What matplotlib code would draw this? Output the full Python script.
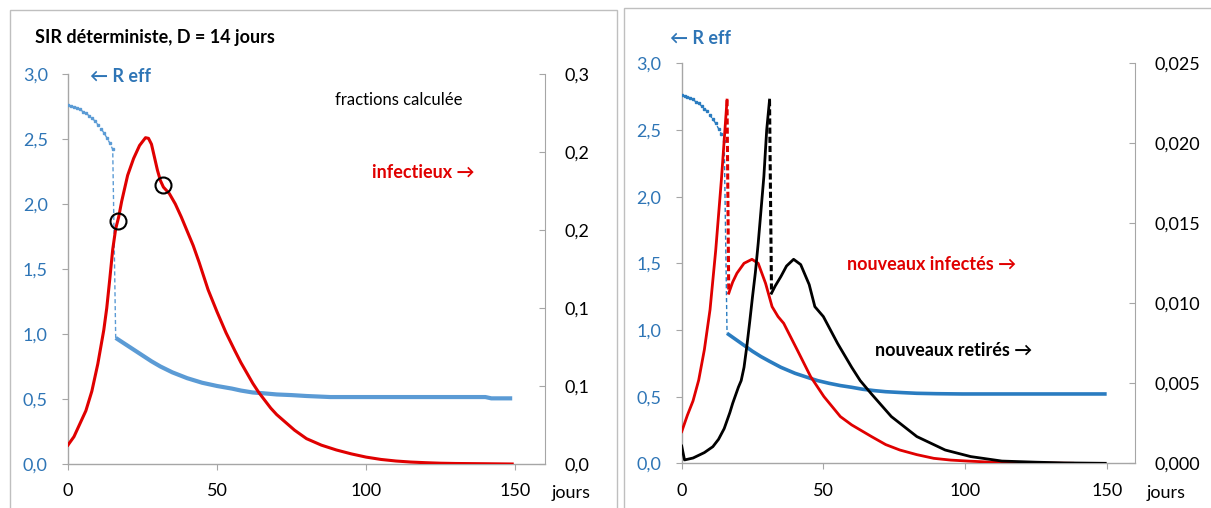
import matplotlib
matplotlib.use("Agg")
import matplotlib.pyplot as plt
from matplotlib.patches import Rectangle
from matplotlib.ticker import FixedLocator, FuncFormatter

plt.rcParams['font.family'] = ['Lato', 'DejaVu Sans']

# ---------------- data ----------------
x_ticks = [0, 50, 100, 150]
reff_ticks = [0.0, 0.5, 1.0, 1.5, 2.0, 2.5, 3.0]
frac_ticks_left = [0.0, 0.06, 0.12, 0.18, 0.24, 0.30]
frac_ticks_right = [0.0, 0.005, 0.010, 0.015, 0.020, 0.025]

# Left panel : R eff before intervention (daily points) and after
reff_pre_days = [0, 1, 2, 3, 4, 5, 6, 7, 8, 9, 10, 11, 12, 13, 14, 15, 16]
reff_pre_L = [2.76, 2.755, 2.75, 2.74, 2.73, 2.71, 2.70, 2.68, 2.66, 2.64,
              2.61, 2.58, 2.55, 2.51, 2.47, 2.42, 0.97]
reff_post_days = [16, 18, 20, 22, 25, 28, 31, 35, 40, 45, 50, 55, 58, 62, 65,
                  70, 75, 80, 88, 100, 120, 140, 142, 149]
reff_post_L = [0.97, 0.94, 0.91, 0.88, 0.835, 0.79, 0.75, 0.705, 0.66, 0.625,
               0.60, 0.58, 0.565, 0.55, 0.545, 0.535, 0.53, 0.523, 0.515,
               0.515, 0.515, 0.515, 0.505, 0.505]

# Left panel : infectious fraction
inf_days = [0, 2, 4, 6, 8, 10, 12, 13, 14, 15, 16, 17, 18, 20, 22, 24, 26, 27,
            28, 29, 30, 31, 32, 34, 36, 38, 40, 42, 44, 47, 50, 53, 56, 58, 60,
            62, 64, 66, 68, 70, 72, 76, 80, 85, 90, 95, 100, 105, 110, 115,
            120, 125, 130, 140, 149]
inf_frac = [0.0146, 0.021, 0.031, 0.041, 0.056, 0.077, 0.103, 0.12, 0.142,
            0.165, 0.181, 0.190, 0.202, 0.222, 0.235, 0.245, 0.251, 0.2505,
            0.246, 0.236, 0.226, 0.218, 0.213, 0.208, 0.200, 0.190, 0.179,
            0.168, 0.155, 0.134, 0.117, 0.101, 0.087, 0.078, 0.070, 0.062,
            0.055, 0.049, 0.043, 0.038, 0.034, 0.026, 0.0195, 0.0145, 0.0108,
            0.0078, 0.0053, 0.0035, 0.0023, 0.0015, 0.001, 0.0006, 0.0004,
            0.0002, 0.0]
circle_days = [16.7, 31.7]
circle_frac = [0.187, 0.2146]

# Right panel : R eff
reff_pre_R = [2.76, 2.755, 2.75, 2.74, 2.73, 2.71, 2.70, 2.68, 2.66, 2.64,
              2.61, 2.58, 2.55, 2.51, 2.47, 2.42, 0.975]
reff_post_days_R = [16, 18, 20, 22, 25, 28, 31, 35, 40, 45, 48, 52, 56, 60,
                    64, 68, 72, 78, 83, 90, 99, 120, 140, 150]
reff_post_R = [0.975, 0.945, 0.915, 0.885, 0.84, 0.80, 0.765, 0.72, 0.675,
               0.64, 0.62, 0.60, 0.583, 0.57, 0.555, 0.545, 0.537, 0.53,
               0.525, 0.522, 0.52, 0.52, 0.52, 0.52]

# Right panel : new infected (fraction per day)
ni_days_a = [0, 2, 4, 6, 8, 10, 12, 14, 16]
ni_a = [0.00198, 0.0030, 0.0039, 0.0052, 0.0071, 0.0096, 0.0133, 0.0177, 0.0227]
ni_days_b = [16.6, 18, 19.5, 22, 24.8, 27, 29.6, 31.9, 34, 36, 40.8, 45.5,
             50.2, 56, 60, 67, 72, 77, 83, 89, 95, 101, 113, 125, 138]
ni_b = [0.01063, 0.01133, 0.01188, 0.0125, 0.01275, 0.0125, 0.01125, 0.00979,
        0.00917, 0.00875, 0.00708, 0.00542, 0.00417, 0.00292, 0.0024, 0.00167,
        0.00117, 0.00083, 0.00054, 0.00031, 0.0002, 0.00014, 0.00004,
        0.00002, 0.0]

# Right panel : new removed (fraction per day)
nr_days_a = [0, 1, 4, 8, 11, 13, 15, 17, 18, 20, 21, 22, 23, 24, 25, 26, 27,
             28, 29, 30, 31]
nr_a = [0.00108, 0.00021, 0.00033, 0.00067, 0.00104, 0.0015, 0.00217,
        0.00317, 0.00375, 0.00475, 0.00517, 0.006, 0.00733, 0.00883, 0.01042,
        0.01192, 0.01375, 0.01583, 0.01792, 0.02083, 0.0227]
nr_days_b = [31.7, 33, 35, 37, 39.5, 42, 45, 47, 50, 55, 60, 63, 67, 74, 83,
             93, 102, 113, 125, 135, 149.5]
nr_b = [0.01063, 0.01108, 0.01167, 0.01233, 0.01275, 0.01242, 0.01117,
        0.00979, 0.00917, 0.0075, 0.006, 0.00517, 0.00433, 0.00292, 0.00167,
        0.00083, 0.00042, 0.00014, 0.00007, 0.000025, 0.0]

# ---------------- styling ----------------
W, H = 1211, 508
BLUE_TXT = '#2e75b6'
BLUE_L = '#5b9bd5'
BLUE_R = '#2a7cc0'
RED = '#e00000'
GRAY = '#a6a6a6'
FS = 13

fig = plt.figure(figsize=(W / 100, H / 100), dpi=100)
fig.patch.set_facecolor('white')

# panel frames
fig.patches.append(Rectangle((10 / W, -0.05), (616.7 - 10) / W, 1.05 - 10 / H,
                             transform=fig.transFigure, fill=False,
                             edgecolor='#bfbfbf', lw=1.0))
fig.patches.append(Rectangle((624 / W, -0.05), (1215 - 624) / W, 1.05 - 8 / H,
                             transform=fig.transFigure, fill=False,
                             edgecolor='#bfbfbf', lw=1.0))


def comma(fmt):
    return FuncFormatter(lambda v, p: format(v, fmt).replace('.', ','))


def make_axes(x0, x1, y0, y3, right_ticks, right_fmt, right_lim):
    ax = fig.add_axes([x0 / W, (H - y0) / H, (x1 - x0) / W, (y0 - y3) / H])
    ax.set_xlim(0, 160)
    ax.set_ylim(0, 3.0)
    ax.xaxis.set_major_locator(FixedLocator(x_ticks))
    ax.yaxis.set_major_locator(FixedLocator(reff_ticks))
    ax.yaxis.set_major_formatter(comma('.1f'))
    for s in ['top', 'right']:
        ax.spines[s].set_visible(False)
    for s in ['left', 'bottom']:
        ax.spines[s].set_color(GRAY)
        ax.spines[s].set_linewidth(1.0)
    ax.tick_params(axis='y', direction='out', length=4, color=GRAY,
                   labelcolor=BLUE_TXT, labelsize=FS, pad=10.5)
    ax.tick_params(axis='x', direction='out', length=4, color=GRAY,
                   labelcolor='black', labelsize=FS, pad=10)
    axr = ax.twinx()
    axr.set_ylim(*right_lim)
    axr.yaxis.set_major_locator(FixedLocator(right_ticks))
    axr.yaxis.set_major_formatter(comma(right_fmt))
    for s in ['top', 'left', 'bottom']:
        axr.spines[s].set_visible(False)
    axr.spines['right'].set_color(GRAY)
    axr.tick_params(axis='y', direction='in', length=4, color=GRAY,
                    labelcolor='black', labelsize=FS, pad=14)
    ax.patch.set_visible(False)
    return ax, axr


# ---------------- left panel ----------------
axL, axLr = make_axes(68, 545, 464, 74, frac_ticks_left, '.1f', (0, 0.3))
axL.plot(reff_pre_days, reff_pre_L, color=BLUE_L, lw=1.0, ls=(0, (3, 2)),
         zorder=2)
axL.plot(reff_pre_days[:-1], reff_pre_L[:-1], ls='none', marker='s', ms=1.8,
         color=BLUE_L, zorder=3)
axL.plot(reff_post_days, reff_post_L, color=BLUE_L, lw=3.0,
         solid_capstyle='butt', zorder=3)
axLr.plot(inf_days, inf_frac, color=RED, lw=2.2, zorder=3)
axLr.plot(circle_days, circle_frac, ls='none', marker='o', ms=11.5,
          mfc='none', mec='black', mew=1.5, zorder=4)

# ---------------- right panel ----------------
axR, axRr = make_axes(681.7, 1135, 463.3, 63.3, frac_ticks_right, '.3f',
                      (0, 0.025))
axR.plot(reff_pre_days, reff_pre_R, color=BLUE_R, lw=1.0, ls=(0, (3, 2)),
         zorder=2)
axR.plot(reff_pre_days[:-1], reff_pre_R[:-1], ls='none', marker='s', ms=1.8,
         color=BLUE_R, zorder=3)
axR.plot(reff_post_days_R, reff_post_R, color=BLUE_R, lw=2.6,
         solid_capstyle='butt', zorder=3)

axRr.plot(ni_days_a, ni_a, color=RED, lw=2.0, zorder=3)
axRr.plot([ni_days_a[-1], ni_days_b[0]], [ni_a[-1], ni_b[0]], color=RED,
          lw=2.2, ls=(0, (2, 1)), zorder=3)
axRr.plot(ni_days_b, ni_b, color=RED, lw=2.0, zorder=3)

axRr.plot(nr_days_a, nr_a, color='black', lw=2.0, zorder=4)
axRr.plot([nr_days_a[-1], nr_days_b[0]], [nr_a[-1], nr_b[0]], color='black',
          lw=2.2, ls=(0, (2, 1)), zorder=4)
axRr.plot(nr_days_b, nr_b, color='black', lw=2.0, zorder=4)


# ---------------- texts ----------------
def ftext(x, y, s, **kw):
    fig.text(x / W, 1 - y / H, s, va='center', ha='left', **kw)


ftext(35, 37, "SIR déterministe, D = 14 jours", fontsize=13,
      fontweight='bold', color='black')
ftext(90, 77, "← R eff", fontsize=13, fontweight='bold', color=BLUE_TXT)
ftext(335, 100, "fractions calculée", fontsize=12, color='black')
ftext(372, 172, "infectieux →", fontsize=13, fontweight='bold', color=RED)
ftext(670, 38, "← R eff", fontsize=13, fontweight='bold', color=BLUE_TXT)
ftext(847, 264, "nouveaux infectés →", fontsize=13, fontweight='bold',
      color=RED)
ftext(875, 350, "nouveaux retirés →", fontsize=13, fontweight='bold',
      color='black')
fig.text(552 / W, 1 - 498 / H, "jours", fontsize=FS, va='baseline',
         ha='left')
fig.text(1147 / W, 1 - 498 / H, "jours", fontsize=FS, va='baseline',
         ha='left')

fig.savefig("out.png", dpi=100)
